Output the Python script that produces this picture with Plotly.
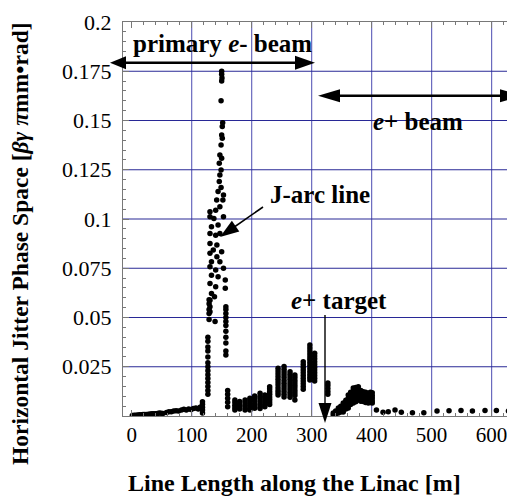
import plotly.graph_objects as go

# ---------------- data ----------------
# injector section, 0-118 m
injector_x = [1, 4, 7, 10, 13, 16, 19, 22, 25, 28, 31, 34, 37, 40, 43, 46, 49, 52,
              58, 62, 66, 70, 74, 78,
              83, 87, 91, 95, 99, 103, 107, 111, 114,
              118, 118, 118, 118, 118]
injector_y = [0.0003, 0.0004, 0.0004, 0.0005, 0.0006, 0.0006, 0.0007, 0.0008, 0.0008, 0.0009,
              0.0010, 0.0011, 0.0012, 0.0012, 0.0013, 0.0015, 0.0014, 0.0013,
              0.0018, 0.0021, 0.0022, 0.0025, 0.0027, 0.0026,
              0.0031, 0.0034, 0.0030, 0.0036, 0.0033, 0.0038, 0.0041, 0.0036, 0.0044,
              0.0015, 0.0030, 0.0045, 0.0060, 0.0072]

# J-arc section, 125-160 m
jarc_x = [127, 127, 127, 127, 127, 127, 127, 127, 127, 127, 127, 127, 127, 127,
          129, 129, 129, 129, 129, 139,
          151.7, 150, 151, 149, 147, 150, 146, 149, 147, 146, 149, 144, 153, 141.7, 152,
          147, 130.5, 140, 130.5, 137, 153, 133, 144, 130.5, 140, 147, 130.5, 142, 136,
          150, 130.5, 142, 133, 147, 130.5, 140, 153, 133, 144, 156, 130.5, 140, 156,
          133, 130.5, 138, 130.5, 130.5,
          150, 150, 150.5, 150, 149, 151,
          157, 157, 157, 157, 157, 157, 157, 157, 157, 157, 157,
          160, 160, 160, 160, 160]
jarc_y = [0.011, 0.013, 0.015, 0.017, 0.019, 0.021, 0.023, 0.025, 0.027, 0.030, 0.033, 0.035, 0.038, 0.040,
          0.049, 0.052, 0.054, 0.057, 0.059, 0.048,
          0.1489, 0.1426, 0.141, 0.1376, 0.1325, 0.1308, 0.1283, 0.1249, 0.1223, 0.119, 0.116,
          0.1139, 0.1122, 0.1096, 0.1096,
          0.1062, 0.1037, 0.1045, 0.1012, 0.1003, 0.1012, 0.0961, 0.097, 0.0927, 0.0918, 0.0927,
          0.0876, 0.0868, 0.0843,
          0.0834, 0.0826, 0.0809, 0.0783, 0.0783, 0.0758, 0.0741, 0.075, 0.0715, 0.0707, 0.069,
          0.0673, 0.0656, 0.0648,
          0.0622, 0.0588, 0.0605, 0.0555, 0.0529,
          0.175, 0.1735, 0.1716, 0.170, 0.160, 0.1469,
          0.0555, 0.054, 0.052, 0.050, 0.048, 0.046, 0.043, 0.040, 0.037, 0.033, 0.031,
          0.013, 0.011, 0.009, 0.007, 0.0047]

# main linac up to the positron target, 165-330 m
linac_x = [172, 172, 172, 172, 172,
           180, 180, 180, 180,
           189, 189, 189, 189, 189,
           197, 197, 197, 197, 197, 197,
           205, 205, 205, 205, 205, 205,
           214, 214, 214, 214, 214, 214, 214,
           222, 222, 222, 222, 222, 222,
           230, 230, 230, 230, 230, 230, 230, 230,
           244, 244, 244, 244, 244, 244, 244, 244, 244, 244, 244,
           254, 254, 254, 254, 254, 254, 254, 254, 254, 254, 254, 254,
           264, 264, 264, 264, 264, 264, 264, 264, 264, 264, 264,
           272, 272, 272, 272, 272, 272, 272, 272, 272, 272,
           286, 286, 286, 286, 286, 286, 286, 286, 286, 286, 286,
           297, 297, 297, 297, 297, 297, 297, 297, 297, 297, 297, 297, 297,
           305, 305, 305, 305, 305, 305, 305, 305, 305, 305, 305,
           327, 327, 327, 327, 327]
linac_y = [0.0081, 0.0068, 0.0055, 0.0042, 0.003,
           0.0073, 0.006, 0.0048, 0.0036,
           0.0081, 0.0068, 0.0055, 0.0042, 0.003,
           0.009, 0.0077, 0.0064, 0.0051, 0.0038, 0.003,
           0.0102, 0.009, 0.0077, 0.0064, 0.0051, 0.0039,
           0.0115, 0.010, 0.0087, 0.0074, 0.006, 0.0047, 0.0038,
           0.0107, 0.0094, 0.0081, 0.0068, 0.0056, 0.0047,
           0.0149, 0.0137, 0.0123, 0.011, 0.0097, 0.0084, 0.0071, 0.0058,
           0.0242, 0.0228, 0.0214, 0.020, 0.0186, 0.0172, 0.0158, 0.0144, 0.013, 0.0118, 0.0107,
           0.0251, 0.0237, 0.0223, 0.0209, 0.0195, 0.018, 0.0166, 0.0152, 0.0138, 0.0124, 0.011, 0.0097,
           0.0225, 0.0212, 0.0199, 0.0186, 0.0173, 0.016, 0.0147, 0.0134, 0.0121, 0.0108, 0.0095,
           0.0208, 0.0195, 0.0182, 0.0169, 0.0156, 0.0143, 0.013, 0.0117, 0.0104, 0.0081,
           0.0276, 0.0262, 0.0248, 0.0234, 0.022, 0.0206, 0.0192, 0.0178, 0.0164, 0.015, 0.0136,
           0.036, 0.0345, 0.033, 0.0315, 0.030, 0.0285, 0.027, 0.0255, 0.024, 0.0225, 0.021, 0.0195, 0.0183,
           0.0318, 0.0304, 0.029, 0.0276, 0.0262, 0.0248, 0.0234, 0.022, 0.0206, 0.0192, 0.0178,
           0.0168, 0.0155, 0.014, 0.0125, 0.011]

# positron section, 336-402 m
positron_x = [336, 336, 340, 340, 344.5, 344.5, 344.5, 348.5, 348.5, 348.5,
              352.7, 352.7, 352.7, 352.7, 357, 357, 357, 357,
              361, 361, 361, 361, 361, 365, 365, 365, 365, 365,
              369.4, 369.4, 369.4, 369.4, 369.4, 369.4,
              373.6, 373.6, 373.6, 373.6, 373.6, 373.6,
              377.8, 377.8, 377.8, 377.8, 377.8, 377.8,
              382, 382, 382, 382, 382, 386, 386, 386, 386, 386,
              390, 390, 390, 390, 390, 394.4, 394.4, 394.4, 394.4, 394.4,
              398, 398, 398, 398, 398, 401, 401, 401, 401, 401]
positron_y = [0.0015, 0.0005, 0.0025, 0.001, 0.004, 0.0028, 0.0015, 0.005, 0.0035, 0.002,
              0.0066, 0.005, 0.0035, 0.002, 0.008, 0.0065, 0.005, 0.0035,
              0.0107, 0.009, 0.0075, 0.006, 0.004, 0.012, 0.0105, 0.009, 0.0075, 0.0058,
              0.0142, 0.0125, 0.011, 0.0095, 0.008, 0.0066,
              0.0145, 0.013, 0.0115, 0.010, 0.0085, 0.0072,
              0.0149, 0.0134, 0.012, 0.0106, 0.0093, 0.0081,
              0.013, 0.0115, 0.010, 0.0085, 0.0075, 0.0123, 0.011, 0.0097, 0.0085, 0.0073,
              0.012, 0.0105, 0.009, 0.0078, 0.0068, 0.0115, 0.0102, 0.009, 0.0078, 0.0066,
              0.012, 0.0107, 0.0093, 0.008, 0.0068, 0.0118, 0.0104, 0.0091, 0.0078, 0.0066]

# downstream, 400-630 m
downstream_x = [408, 419, 427.7, 439, 449.5, 468, 487, 509, 529, 549, 568, 589, 608, 628]
downstream_y = [0.003, 0.0019, 0.0022, 0.003, 0.0019, 0.0017, 0.0017, 0.0025, 0.0027,
                0.0028, 0.0025, 0.0028, 0.0028, 0.0026]

x_ticks = [0, 100, 200, 300, 400, 500, 600]
x_tick_labels = ["0", "100", "200", "300", "400", "500", "600"]
y_ticks = [0.025, 0.05, 0.075, 0.1, 0.125, 0.15, 0.175, 0.2]
y_tick_labels = ["0.025", "0.05", "0.075", "0.1", "0.125", "0.15", "0.175", "0.2"]
x_grid = [100, 200, 300, 400, 500, 600]
y_grid = [0.025, 0.05, 0.075, 0.1, 0.125, 0.15, 0.175]

# ---------------- figure ----------------
# the page body adds an 8 px offset; the figure is sized so that it fills the window
OFF = 8
W, H = 515 - OFF, 498 - OFF
PLOT_L, PLOT_T, PLOT_B = 123, 22, 416          # plot box in window pixels
L, T = PLOT_L - OFF, PLOT_T - OFF
B = H - (PLOT_B - OFF)
R = 0
PW, PH = W - L - R, H - T - B
FONT = "Liberation Serif, Times New Roman, serif"


def P(px, py):
    # window pixel -> paper fraction
    return (px - PLOT_L) / PW, (PLOT_B - py) / PH


all_x = injector_x + jarc_x + linac_x + positron_x + downstream_x
all_y = injector_y + jarc_y + linac_y + positron_y + downstream_y

fig = go.Figure()
fig.add_trace(go.Scatter(x=all_x, y=all_y, mode="markers",
                         marker=dict(color="black", size=5.5), showlegend=False))

shapes = []
for gx in x_grid:
    shapes.append(dict(type="line", xref="x", yref="paper", x0=gx, x1=gx, y0=0, y1=1,
                       line=dict(color="rgb(105,105,190)", width=1.2), layer="below"))
for gy in y_grid:
    shapes.append(dict(type="line", xref="paper", yref="y", x0=0, x1=1, y0=gy, y1=gy,
                       line=dict(color="rgb(40,40,150)", width=1.2), layer="below"))


def arrow_line(x0, y0, x1, y1, lw):
    a, b = P(x0, y0)
    c, d = P(x1, y1)
    shapes.append(dict(type="line", xref="paper", yref="paper", x0=a, y0=b, x1=c, y1=d,
                       line=dict(color="black", width=lw)))


def head(tx, ty, fx, fy, length, width):
    # tip at (tx,ty), pointing away from (fx,fy)
    dx, dy = tx - fx, ty - fy
    n = (dx * dx + dy * dy) ** 0.5
    ux, uy = dx / n, dy / n
    bx, by = tx - ux * length, ty - uy * length
    nx, ny = -uy, ux
    pts = [(tx, ty), (bx + nx * width / 2, by + ny * width / 2),
           (bx - nx * width / 2, by - ny * width / 2)]
    pp = [P(*p) for p in pts]
    path = "M{:.5f},{:.5f} L{:.5f},{:.5f} L{:.5f},{:.5f} Z".format(
        pp[0][0], pp[0][1], pp[1][0], pp[1][1], pp[2][0], pp[2][1])
    shapes.append(dict(type="path", xref="paper", yref="paper", path=path,
                       fillcolor="black", line=dict(color="black", width=0)))


# primary e- beam double arrow
arrow_line(118, 62.7, 300, 62.7, 2.5)
head(110, 62.7, 130, 62.7, 16, 13)
head(315, 62.7, 290, 62.7, 20, 14)
# e+ beam double arrow
arrow_line(330, 95.7, 510, 95.7, 2.5)
head(318, 95.7, 340, 95.7, 22, 13)
head(522, 95.7, 500, 95.7, 22, 13)
# J-arc arrow
arrow_line(263, 207, 230, 230, 1.6)
head(220, 237, 263, 207, 19, 13)
# e+ target arrow
arrow_line(325, 315, 325, 408, 1.4)
head(325, 423, 325, 315, 20, 13)

ann = []


def text(s, px, py, size=25):
    x, y = P(px, py)
    ann.append(dict(text="<b>" + s + "</b>", x=x, y=y, xref="paper", yref="paper",
                    showarrow=False, xanchor="center", yanchor="middle",
                    font=dict(family=FONT, size=size, color="black")))


text("primary <i>e</i>- beam", 222, 43)
text("<i>e</i>+ beam", 418, 121)
text("J-arc line", 320, 194)
text("<i>e</i>+ target", 339, 300)
text("Line Length along the Linac [m]", 294, 483, 24)
x, y = P(20, 244)
ann.append(dict(text="<b>Horizontal Jitter Phase Space [<i>βγ π</i>mm•rad]</b>",
                x=x, y=y, xref="paper", yref="paper", showarrow=False, textangle=-90,
                xanchor="center", yanchor="middle",
                font=dict(family=FONT, size=23.5, color="black")))

fig.update_layout(
    width=W, height=H,
    margin=dict(l=L, r=R, t=T, b=B, pad=0),
    paper_bgcolor="white", plot_bgcolor="white",
    shapes=shapes, annotations=ann,
    font=dict(family=FONT, size=21, color="black"),
    xaxis=dict(range=[-14.5, 639], tickvals=x_ticks, ticktext=x_tick_labels,
               showgrid=False, zeroline=False, showline=True, linecolor="rgb(120,120,120)",
               linewidth=1, mirror="ticks", ticks="inside", ticklen=6,
               tickcolor="rgb(120,120,120)",
               minor=dict(ticks="inside", ticklen=3, dtick=20, tick0=0,
                          tickcolor="rgb(120,120,120)", showgrid=False),
               tickfont=dict(family=FONT, size=21, color="black")),
    yaxis=dict(range=[0, 0.2], tickvals=y_ticks, ticktext=y_tick_labels,
               showgrid=False, zeroline=False, showline=True, linecolor="rgb(120,120,120)",
               linewidth=1, ticks="inside", ticklen=6, tickcolor="rgb(120,120,120)",
               minor=dict(ticks="inside", ticklen=3, dtick=0.005, tick0=0,
                          tickcolor="rgb(120,120,120)", showgrid=False),
               ticklabelstandoff=6,
               tickfont=dict(family=FONT, size=22, color="black")),
)

fig.write_html("out.html")
